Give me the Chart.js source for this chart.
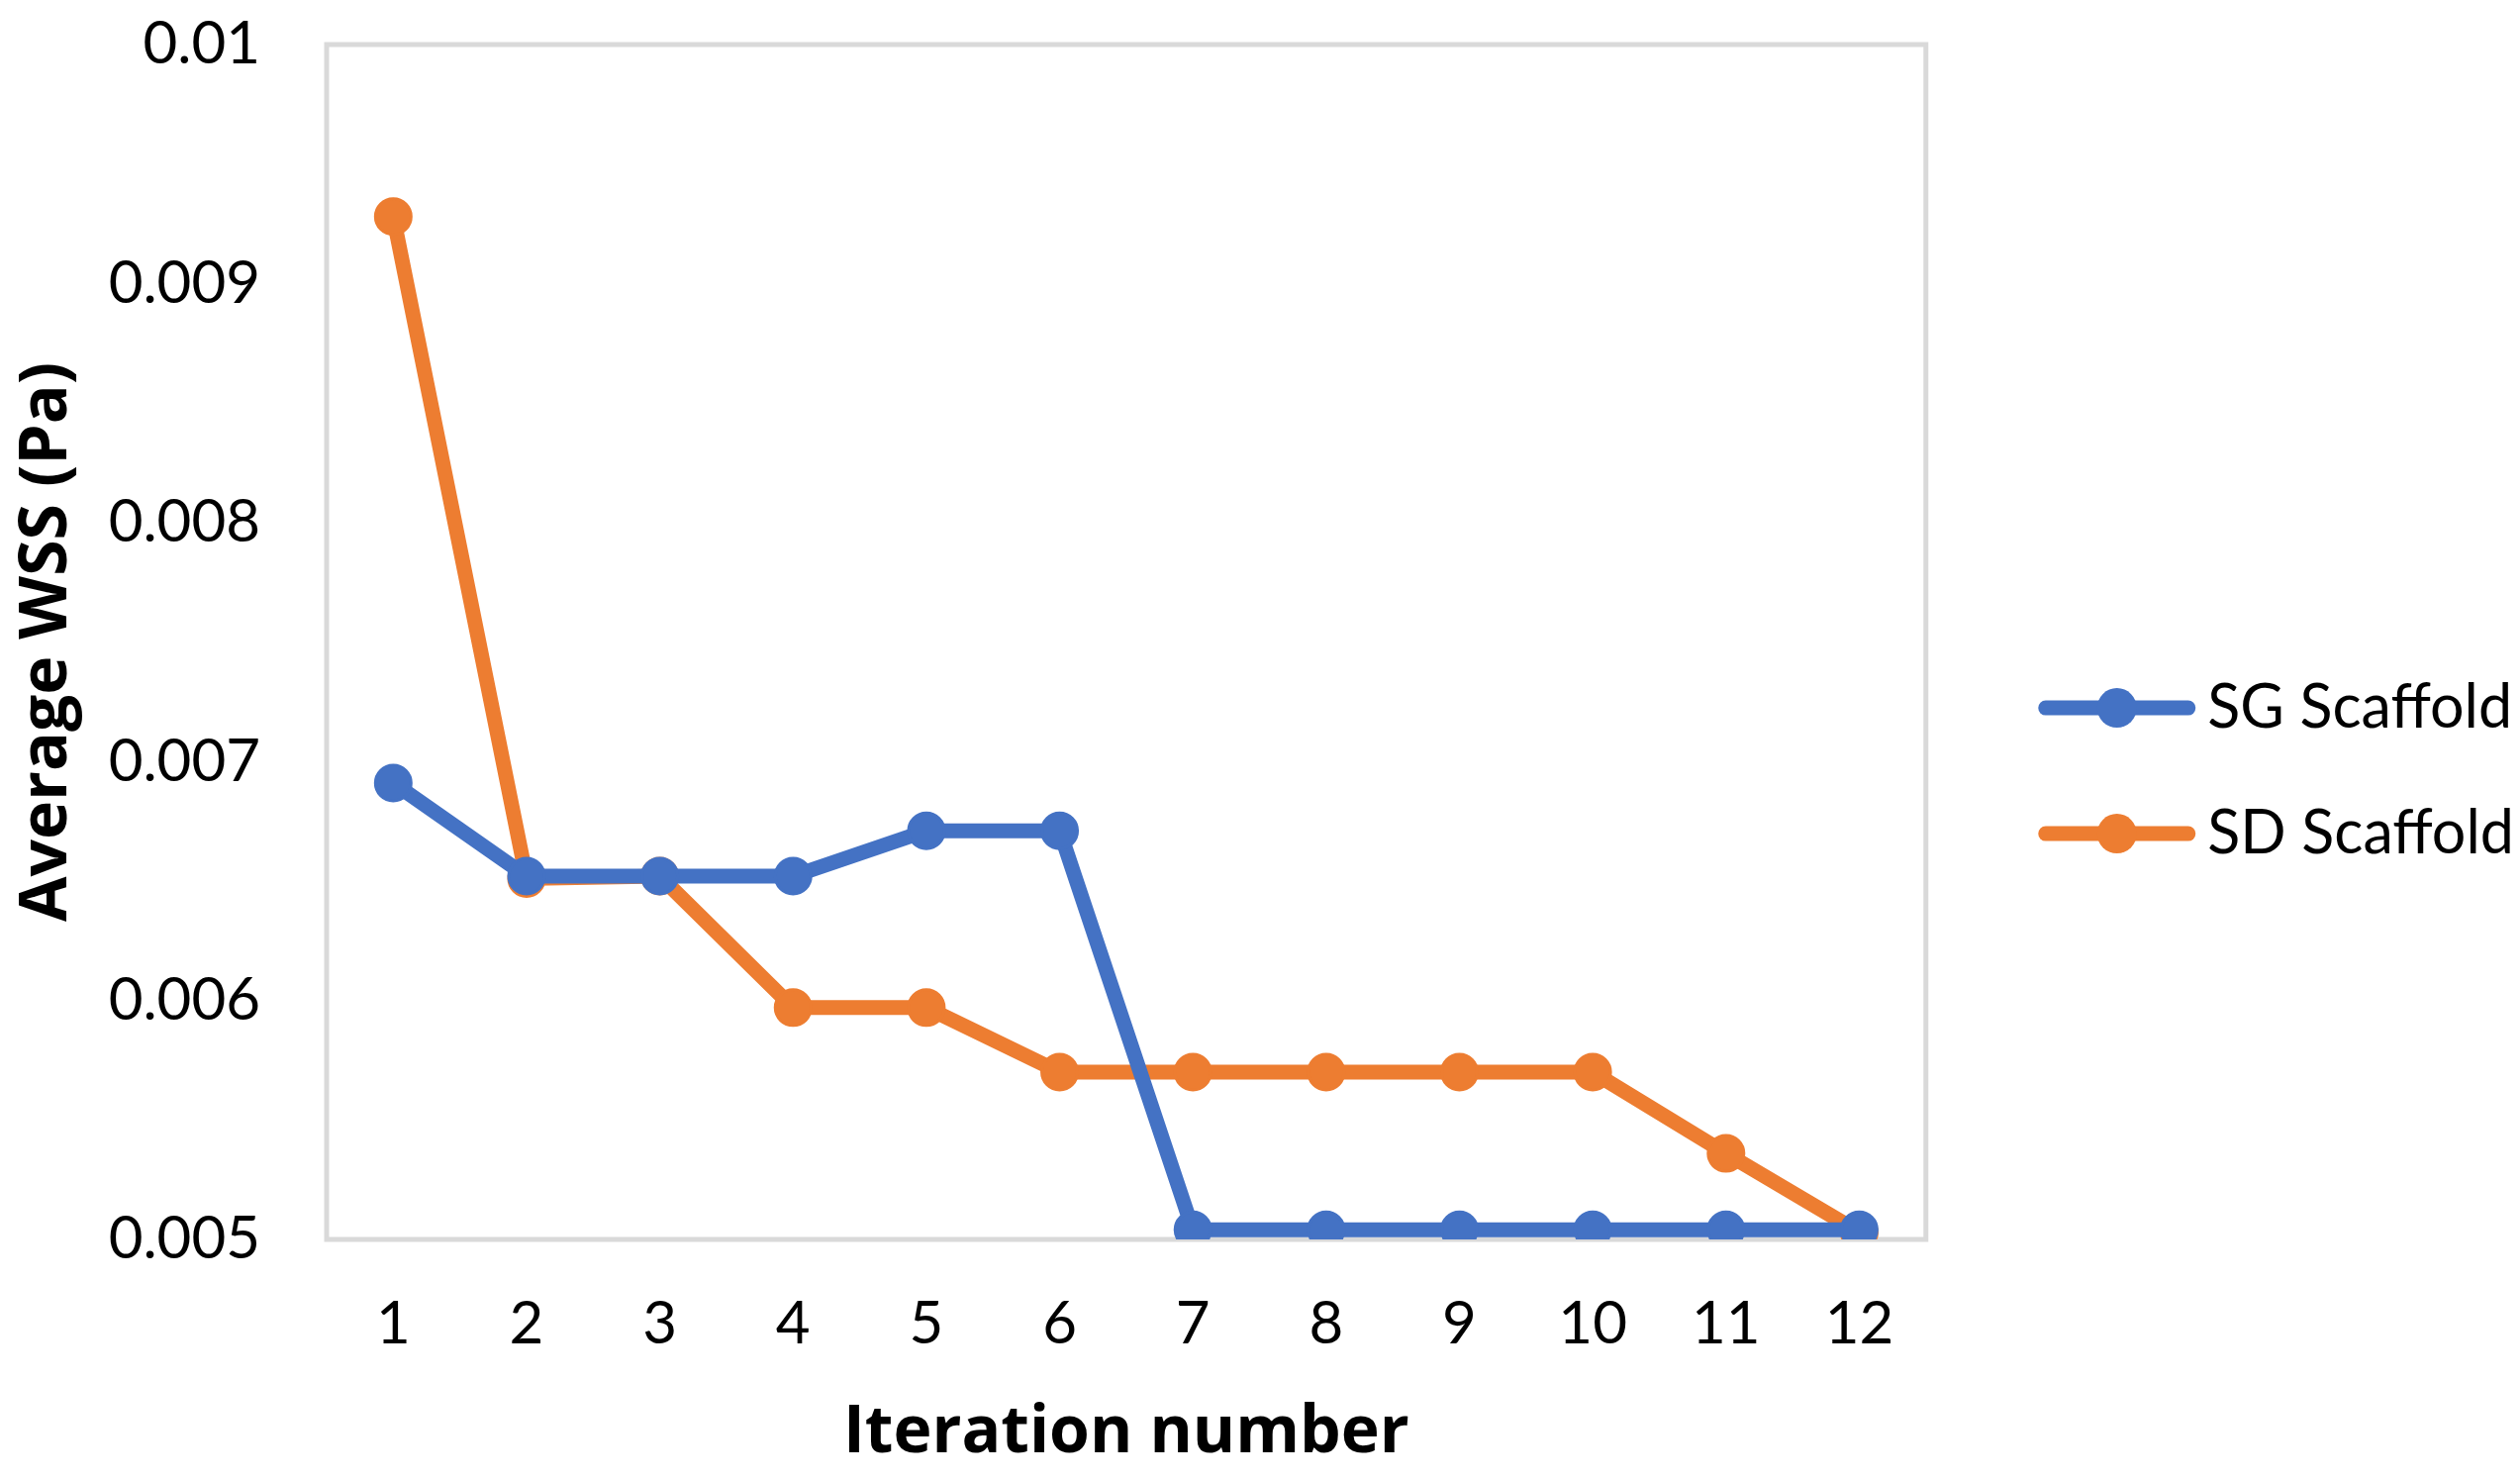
<!DOCTYPE html>
<html>
<head>
<meta charset="utf-8">
<script src="https://cdn.jsdelivr.net/npm/chart.js@4.4.0/dist/chart.umd.min.js"></script>
<style>
  body { margin: 0; background: #fff; }
  #chart { display: block; }
</style>
</head>
<body>
<canvas id="chart" width="2546" height="1495"></canvas>
<script>
// data
const iterations = ['1', '2', '3', '4', '5', '6', '7', '8', '9', '10', '11', '12'];
const sgScaffold = [0.00691, 0.00652, 0.00652, 0.00652, 0.00671, 0.00671, 0.00504, 0.00504, 0.00504, 0.00504, 0.00504, 0.00504];
const sdScaffold = [0.00928, 0.00651, 0.00652, 0.00597, 0.00597, 0.00570, 0.00570, 0.00570, 0.00570, 0.00570, 0.00536, 0.00503];
const yTickLabels = ['0.005', '0.006', '0.007', '0.008', '0.009', '0.01'];

const BLUE = '#4472C4';
const ORANGE = '#ED7D31';
const FONT = 'Lato, "Open Sans", sans-serif';
const TITLE_FONT = '"Open Sans", Lato, sans-serif';

// gray frame round the plot area
const framePlugin = {
    id: 'frame',
    beforeDatasetsDraw(chart) {
        const a = chart.chartArea;
        const ctx = chart.ctx;
        ctx.save();
        ctx.strokeStyle = '#d9d9d9';
        ctx.lineWidth = 5;
        ctx.strokeRect(a.left, a.top, a.right - a.left, a.bottom - a.top);
        ctx.restore();
    }
};

// legend: line with a round marker in the middle, like the excel one
// (chart.js own box is left transparent, this draws over its place)
const legendMarker = {
    id: 'legendMarker',
    afterDraw(chart) {
        const legend = chart.legend;
        const ctx = chart.ctx;
        const len = 158;
        const x0 = legend.left + legend.options.labels.padding;
        legend.legendHitBoxes.forEach(function (box, i) {
            const cy = box.top + box.height / 2;
            const color = chart.data.datasets[i].borderColor;
            ctx.save();
            ctx.strokeStyle = color;
            ctx.fillStyle = color;
            ctx.lineWidth = 15;
            ctx.lineCap = 'round';
            ctx.beginPath();
            ctx.moveTo(x0 + 7, cy);
            ctx.lineTo(x0 + len - 7, cy);
            ctx.stroke();
            ctx.beginPath();
            ctx.arc(x0 + len / 2, cy, 20, 0, Math.PI * 2);
            ctx.fill();
            ctx.restore();
        });
    }
};

new Chart(document.getElementById('chart'), {
    type: 'line',
    data: {
        labels: iterations,
        datasets: [
            {
                label: 'SG Scaffold',
                data: sgScaffold,
                borderColor: BLUE,
                backgroundColor: BLUE,
                borderWidth: 15,
                pointRadius: 18,
                pointBorderWidth: 3,
                pointBackgroundColor: BLUE,
                pointBorderColor: BLUE,
                tension: 0
            },
            {
                label: 'SD Scaffold',
                data: sdScaffold,
                borderColor: ORANGE,
                backgroundColor: ORANGE,
                borderWidth: 15,
                pointRadius: 18,
                pointBorderWidth: 3,
                pointBackgroundColor: ORANGE,
                pointBorderColor: ORANGE,
                tension: 0
            }
        ]
    },
    options: {
        responsive: false,
        animation: false,
        devicePixelRatio: 1,
        layout: { padding: { top: 45, right: -4, left: 0, bottom: 0 } },
        plugins: {
            tooltip: { enabled: false },
            legend: {
                position: 'right',
                maxWidth: 700,
                title: { display: true, text: '', font: { size: 1 }, padding: 8 },
                labels: {
                    boxWidth: 140,
                    boxHeight: 15,
                    padding: 66,
                    color: '#000',
                    font: { family: FONT, size: 61 },
                    generateLabels(chart) {
                        return chart.data.datasets.map(function (ds, i) {
                            return {
                                text: ds.label,
                                fillStyle: 'rgba(0,0,0,0)',
                                strokeStyle: 'rgba(0,0,0,0)',
                                lineWidth: 0,
                                datasetIndex: i,
                                fontColor: '#000'
                            };
                        });
                    }
                }
            }
        },
        scales: {
            x: {
                offset: true,
                grid: { display: false, drawTicks: false },
                border: { display: false },
                ticks: { color: '#000', padding: 50, font: { family: FONT, size: 60 } },
                title: {
                    display: true,
                    text: 'Iteration number',
                    color: '#000',
                    font: { family: TITLE_FONT, size: 66, weight: 'bold' },
                    padding: { top: 0, bottom: 7 }
                },
                afterFit(scale) { scale.height = 243; }
            },
            y: {
                min: 0.005,
                max: 0.01,
                grid: { display: false, drawTicks: false },
                border: { display: false },
                ticks: {
                    stepSize: 0.001,
                    color: '#000',
                    padding: 67,
                    font: { family: FONT, size: 60 },
                    callback: function (value, index) { return yTickLabels[index]; }
                },
                title: {
                    display: true,
                    text: 'Average WSS (Pa)',
                    color: '#000',
                    font: { family: TITLE_FONT, size: 66, weight: 'bold' },
                    padding: { top: 9, bottom: 0 }
                },
                afterFit(scale) {
                    scale.width = 330;
                    scale.paddingTop = 0;
                    scale.paddingBottom = 0;
                }
            },
            // empty space between the plot frame and the legend
            gap: {
                type: 'linear',
                position: 'right',
                grid: { display: false, drawTicks: false },
                border: { display: false },
                ticks: { display: false },
                afterFit(scale) {
                    scale.width = 48;
                    scale.paddingTop = 0;
                    scale.paddingBottom = 0;
                }
            }
        }
    },
    plugins: [framePlugin, legendMarker]
});
</script>
</body>
</html>
